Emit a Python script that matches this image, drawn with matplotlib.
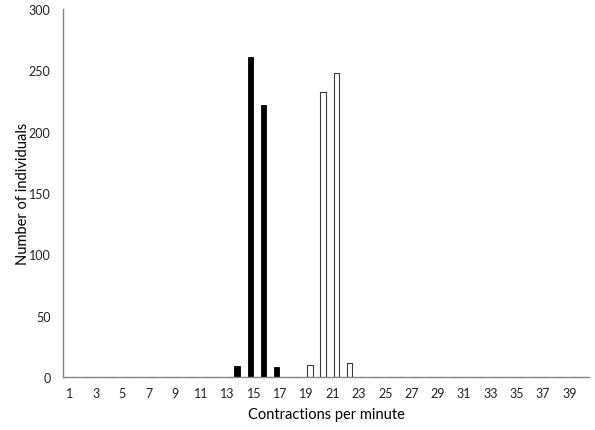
import numpy as np
import matplotlib
matplotlib.use("Agg")
import matplotlib.pyplot as plt

plt.rcParams['font.family'] = ['Lato', 'DejaVu Sans']

# contractions per minute, categories 1..40
categories = np.arange(1, 41)
tick_labels = [str(c) for c in categories[::2]]

# non-zero counts of each group (all other categories are 0)
black_bins = [14, 15, 16, 17]
black_counts = [9, 261, 222, 8]
white_bins = [19, 20, 21, 22]
white_counts = [10, 232, 248, 11]

black = np.zeros(len(categories))
white = np.zeros(len(categories))
black[np.searchsorted(categories, black_bins)] = black_counts
white[np.searchsorted(categories, white_bins)] = white_counts

fig = plt.figure(figsize=(5.95, 4.31), dpi=100)
ax = fig.add_axes([0.106, 0.123, 0.884, 0.854])

offset = 0.27
width = 0.40
ax.bar(categories - offset, black, width=width, color='black', edgecolor='black', linewidth=0.6)
ax.bar(categories + offset, white, width=width, color='white', edgecolor='#3a3a3a', linewidth=0.8)

ax.set_xlim(0.5, 40.5)
ax.set_ylim(0, 300)
ax.set_yticks(np.arange(0, 301, 50))
ax.set_xticks(categories[::2])
ax.set_xticklabels(tick_labels)
ax.tick_params(axis='both', length=0, labelsize=9, colors='#222222')
ax.tick_params(axis='x', pad=7)
ax.tick_params(axis='y', pad=9)

for side in ['top', 'right']:
    ax.spines[side].set_visible(False)
for side in ['left', 'bottom']:
    ax.spines[side].set_color('#868686')
    ax.spines[side].set_linewidth(1.0)

ax.set_xlabel('Contractions per minute', fontsize=10.5, va='center')
ax.set_ylabel('Number of individuals', fontsize=10.5, va='center')
ax.xaxis.set_label_coords(0.5, -0.1)
ax.yaxis.set_label_coords(-0.076, 0.5)

fig.savefig('out.png', dpi=100)
